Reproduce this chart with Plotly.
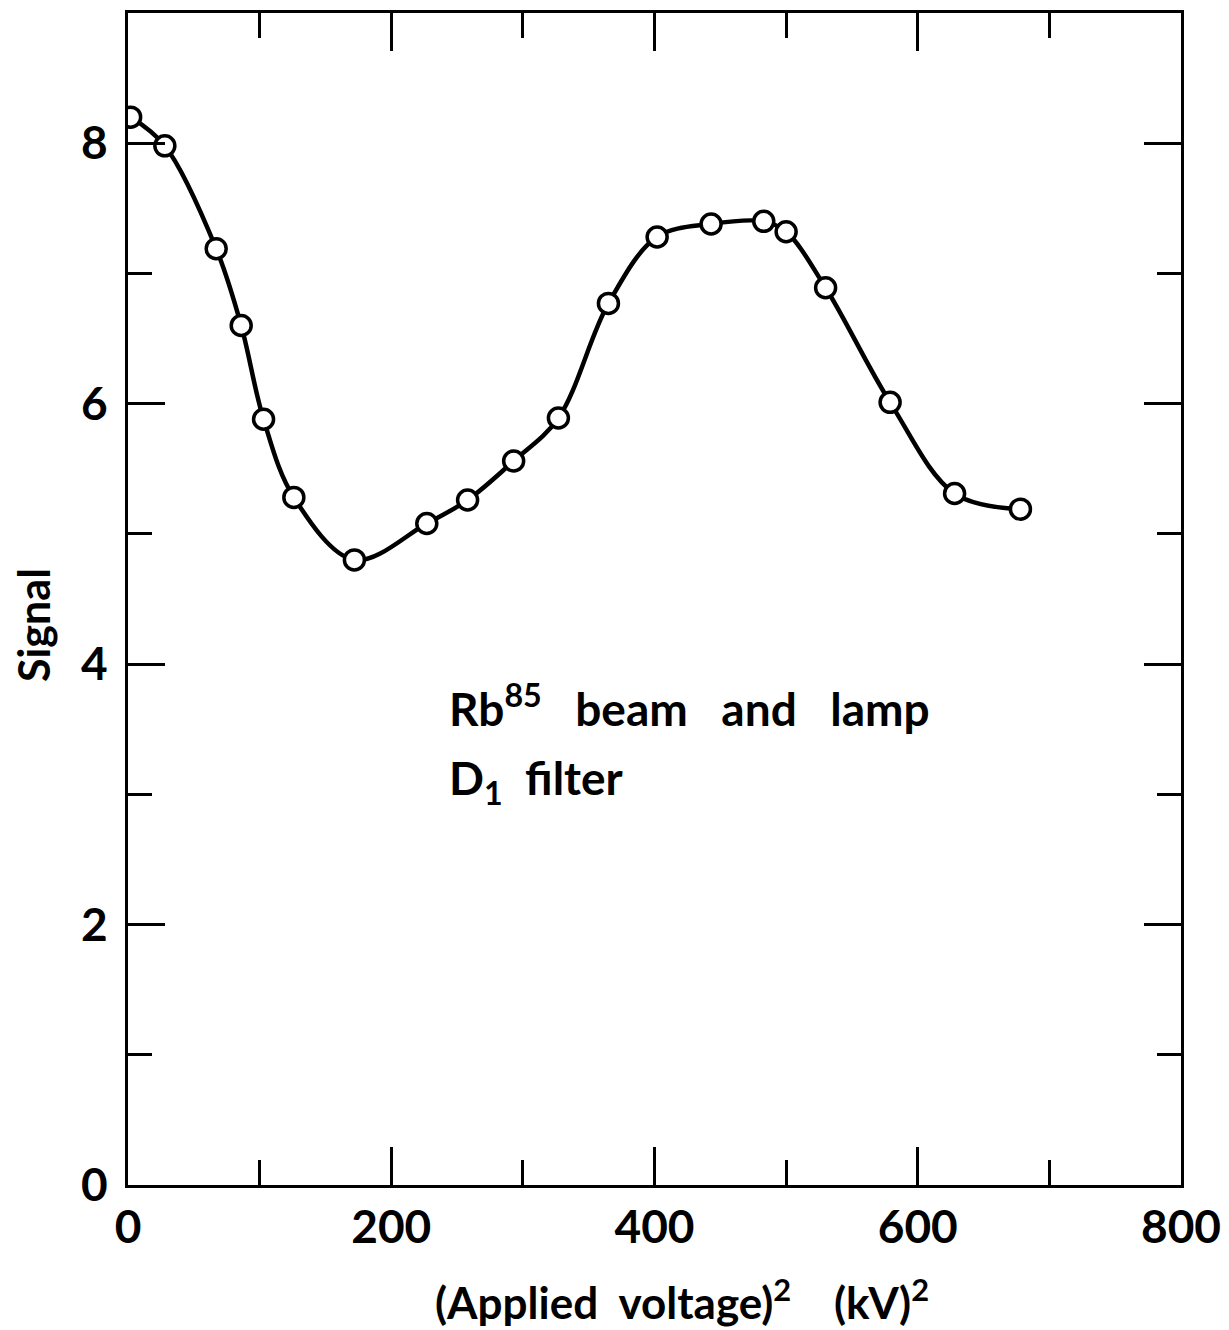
import plotly.graph_objects as go

# Data
voltage_sq = [2, 28, 67, 86, 103, 126, 172, 227, 258, 293, 327, 365, 402, 443, 483, 500, 530, 579, 628, 678]
signal = [8.20, 7.98, 7.19, 6.60, 5.88, 5.28, 4.80, 5.08, 5.26, 5.56, 5.89, 6.77, 7.28, 7.38, 7.40, 7.32, 6.89, 6.01, 5.31, 5.19]

x_ticks = [0, 200, 400, 600, 800]
y_ticks = [0, 2, 4, 6, 8]

FONT = "Lato, 'DejaVu Sans', sans-serif"

fig = go.Figure()
fig.add_trace(go.Scatter(
    x=voltage_sq, y=signal, mode="lines",
    line=dict(color="black", width=4.5, shape="spline", smoothing=1.0),
    hoverinfo="skip", showlegend=False))
fig.add_trace(go.Scatter(
    x=voltage_sq, y=signal, mode="markers",
    marker=dict(symbol="circle", size=20, color="white",
                line=dict(color="black", width=3.5)),
    showlegend=False))

axis_common = dict(showgrid=False, zeroline=False, showline=True, linecolor="black",
                   linewidth=3, mirror="allticks", ticks="inside", tickcolor="black",
                   tickwidth=3, ticklabeloverflow="allow",
                   tickfont=dict(family=FONT, size=46, color="black", weight="bold"))

fig.update_xaxes(range=[0, 800], tickvals=x_ticks, ticktext=[str(v) for v in x_ticks],
                 ticklen=38, minor=dict(dtick=100, tick0=0, ticks="inside", ticklen=25,
                                        tickwidth=3, tickcolor="black", showgrid=False),
                 ticklabelstandoff=0,
                 **axis_common)
fig.update_yaxes(range=[0, 9], tickvals=y_ticks, ticktext=[str(v) for v in y_ticks],
                 ticklen=37, minor=dict(dtick=1, tick0=0, ticks="inside", ticklen=24,
                                        tickwidth=3, tickcolor="black", showgrid=False),
                 ticklabelstandoff=8,
                 **axis_common)

# axis titles (placed as annotations to match their off-centre positions)
fig.add_annotation(x=232, y=-0.098, xref="x", yref="paper", xanchor="left", yanchor="middle",
                   text="(Applied  voltage)<sup>2</sup>    (kV)<sup>2</sup>", showarrow=False,
                   font=dict(family=FONT, size=44, color="black", weight="bold"))
fig.add_annotation(x=-0.089, y=0.478, xref="paper", yref="paper", xanchor="center", yanchor="middle",
                   text="Signal", textangle=-90, showarrow=False,
                   font=dict(family=FONT, size=43, color="black", weight="bold"))

fig.add_annotation(x=242, y=3.68, xref="x", yref="y", xanchor="left", yanchor="middle",
                   text="Rb<sup>85</sup>   beam   and   lamp", showarrow=False,
                   font=dict(family=FONT, size=46, color="black", weight="bold"))
fig.add_annotation(x=242, y=3.10, xref="x", yref="y", xanchor="left", yanchor="middle",
                   text="D<sub>1</sub>  filter", showarrow=False,
                   font=dict(family=FONT, size=46, color="black", weight="bold"))

fig.update_layout(width=1221, height=1322, paper_bgcolor="white", plot_bgcolor="white",
                  margin=dict(l=120, r=48, t=2, b=145))

fig.write_html("out.html")
